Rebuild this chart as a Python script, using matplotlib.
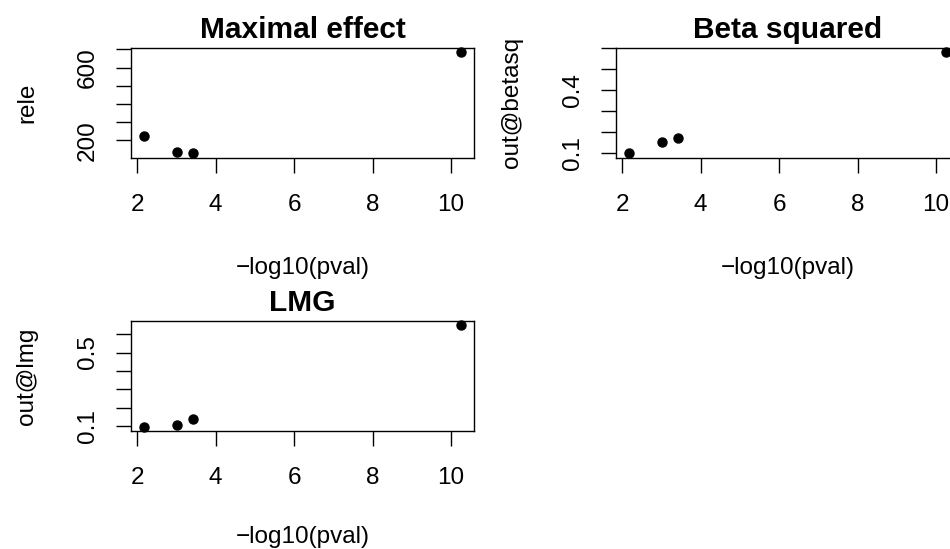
import matplotlib
matplotlib.use("Agg")
import matplotlib.pyplot as plt

plt.rcParams['font.family'] = ['Liberation Sans', 'DejaVu Sans']

# data
neglog_p = [2.17, 3.02, 3.42, 10.26]
rele = [222, 136, 128, 688]
betasq = [0.097, 0.151, 0.172, 0.584]
lmg = [0.096, 0.105, 0.140, 0.649]

titles = ["Maximal effect", "Beta squared", "LMG"]
ylabels = ["rele", "out@betasq", "out@lmg"]
xlabel = "\u2212log10(pval)"
xticks = [2, 4, 6, 8, 10]
yticks = [
    [200, 300, 400, 500, 600, 700],
    [0.1, 0.2, 0.3, 0.4, 0.5, 0.6],
    [0.1, 0.2, 0.3, 0.4, 0.5, 0.6],
]
ytick_labels = [
    ["200", "", "", "", "600", ""],
    ["0.1", "", "", "0.4", "", ""],
    ["0.1", "", "", "", "0.5", ""],
]
series = [rele, betasq, lmg]

W, H = 950, 549
# plot boxes in pixels: left, right, top, bottom
boxes = [(131, 474, 47.5, 157.5), (616, 959, 47.5, 157.5), (131, 474, 321, 431)]
# distance from box bottom to x label baseline (last one nudged up to stay inside)
xlab_off = [116, 116, 112]

fig = plt.figure(figsize=(W / 100, H / 100), dpi=100)

for i in range(3):
    l, r, t, b = boxes[i]
    ax = fig.add_axes([l / W, 1 - b / H, (r - l) / W, (b - t) / H])
    ax.plot(neglog_p, series[i], 'o', color='black', markersize=6.5, clip_on=False)
    ax.margins(x=0.04, y=0.04)
    ax.set_xticks(xticks)
    ax.set_xticklabels([str(v) for v in xticks])
    ax.set_yticks(yticks[i])
    ax.set_yticklabels(ytick_labels[i], rotation=90, va='center')
    ax.tick_params(direction='out', length=11, width=1, labelsize=17.5)
    ax.tick_params(axis='x', pad=15)
    ax.tick_params(axis='y', pad=11.9)
    for s in ax.spines.values():
        s.set_linewidth(1)
    cx = (l + r) / 2
    fig.text(cx / W, 1 - (b + xlab_off[i]) / H, xlabel, ha='center', va='baseline',
             fontsize=17.5)
    fig.text(cx / W, 1 - (t - 10) / H, titles[i], ha='center', va='baseline',
             fontsize=21.5, fontweight='bold')
    fig.text((l - 104) / W, 1 - (t + b) / 2 / H, ylabels[i], ha='center',
             va='center', rotation=90, fontsize=17.5)

fig.savefig("out.png", dpi=100)
